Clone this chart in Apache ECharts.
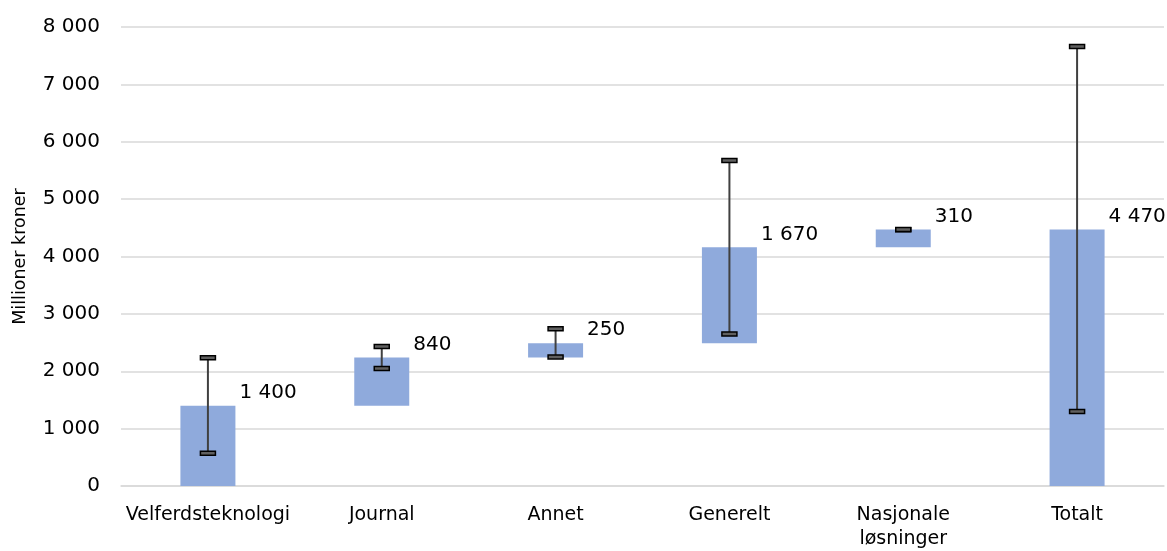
<!DOCTYPE html>
<html><head><meta charset="utf-8">
<script src="https://cdn.jsdelivr.net/npm/echarts@6/dist/echarts.min.js"></script>
<style>html,body{margin:0;padding:0;background:#fff}#c{width:1167px;height:551px}</style>
</head><body><div id="c"></div>
<script>
const categories = ['Velferdsteknologi', 'Journal', 'Annet', 'Generelt', 'Nasjonale\nløsninger', 'Totalt'];
const baseValues = [0, 1400, 2240, 2490, 4160, 0];
const barValues = [1400, 840, 250, 1670, 310, 4470];
const errLow = [570, 2050, 2250, 2650, 4468, 1300];
const errHigh = [2235, 2430, 2740, 5675, 4472, 7660];
const yTicks = [0, 1000, 2000, 3000, 4000, 5000, 6000, 7000, 8000];

const fmt = v => String(v).replace(/\B(?=(\d{3})+(?!\d))/g, ' ');
const FONT = '"DejaVu Sans", sans-serif';

const chart = echarts.init(document.getElementById('c'));
chart.setOption({
  animation: false,
  textStyle: { fontFamily: FONT },
  grid: { left: 121, right: 3, top: 27, bottom: 62, containLabel: false },
  xAxis: {
    type: 'category', data: categories,
    axisLine: { lineStyle: { color: '#d9d9d9', width: 1.5 } },
    axisTick: { show: false },
    axisLabel: { color: '#000', fontSize: 19, margin: 17, lineHeight: 24, fontFamily: FONT, interval: 0 }
  },
  yAxis: {
    type: 'value', min: yTicks[0], max: yTicks[yTicks.length - 1], interval: 1000,
    name: 'Millioner kroner', nameLocation: 'middle', nameGap: 92, nameRotate: 90,
    nameTextStyle: { color: '#000', fontSize: 17.5, fontFamily: FONT },
    axisLine: { show: false }, axisTick: { show: false },
    axisLabel: { color: '#000', fontSize: 20, margin: 21, formatter: fmt, fontFamily: FONT },
    splitLine: { lineStyle: { color: '#d9d9d9', width: 1.5 } }
  },
  series: [
    { type: 'bar', stack: 's', data: baseValues, barWidth: 55, itemStyle: { color: 'transparent' }, silent: true },
    { type: 'bar', stack: 's', data: barValues, barWidth: 55, itemStyle: { color: '#8faadc' },
      label: { show: true, position: ['100%', -23], distance: 0, offset: [4, 0], align: 'left', verticalAlign: 'top',
        formatter: p => fmt(p.value), color: '#000', fontSize: 20, fontFamily: FONT } },
    { type: 'custom', data: categories.map((c, i) => [i, errLow[i], errHigh[i]]), z: 10,
      renderItem: function (params, api) {
        const lo = api.coord([api.value(0), api.value(1)]);
        const hi = api.coord([api.value(0), api.value(2)]);
        const x = lo[0], cw = 15, ch = 4;
        return { type: 'group', children: [
          { type: 'line', shape: { x1: x, y1: lo[1], x2: x, y2: hi[1] }, style: { stroke: '#404040', lineWidth: 2 } },
          { type: 'rect', shape: { x: x - cw / 2, y: lo[1] - ch / 2, width: cw, height: ch }, style: { fill: '#606060', stroke: '#000', lineWidth: 1.5 } },
          { type: 'rect', shape: { x: x - cw / 2, y: hi[1] - ch / 2, width: cw, height: ch }, style: { fill: '#606060', stroke: '#000', lineWidth: 1.5 } }
        ] };
      } }
  ]
});
</script></body></html>
